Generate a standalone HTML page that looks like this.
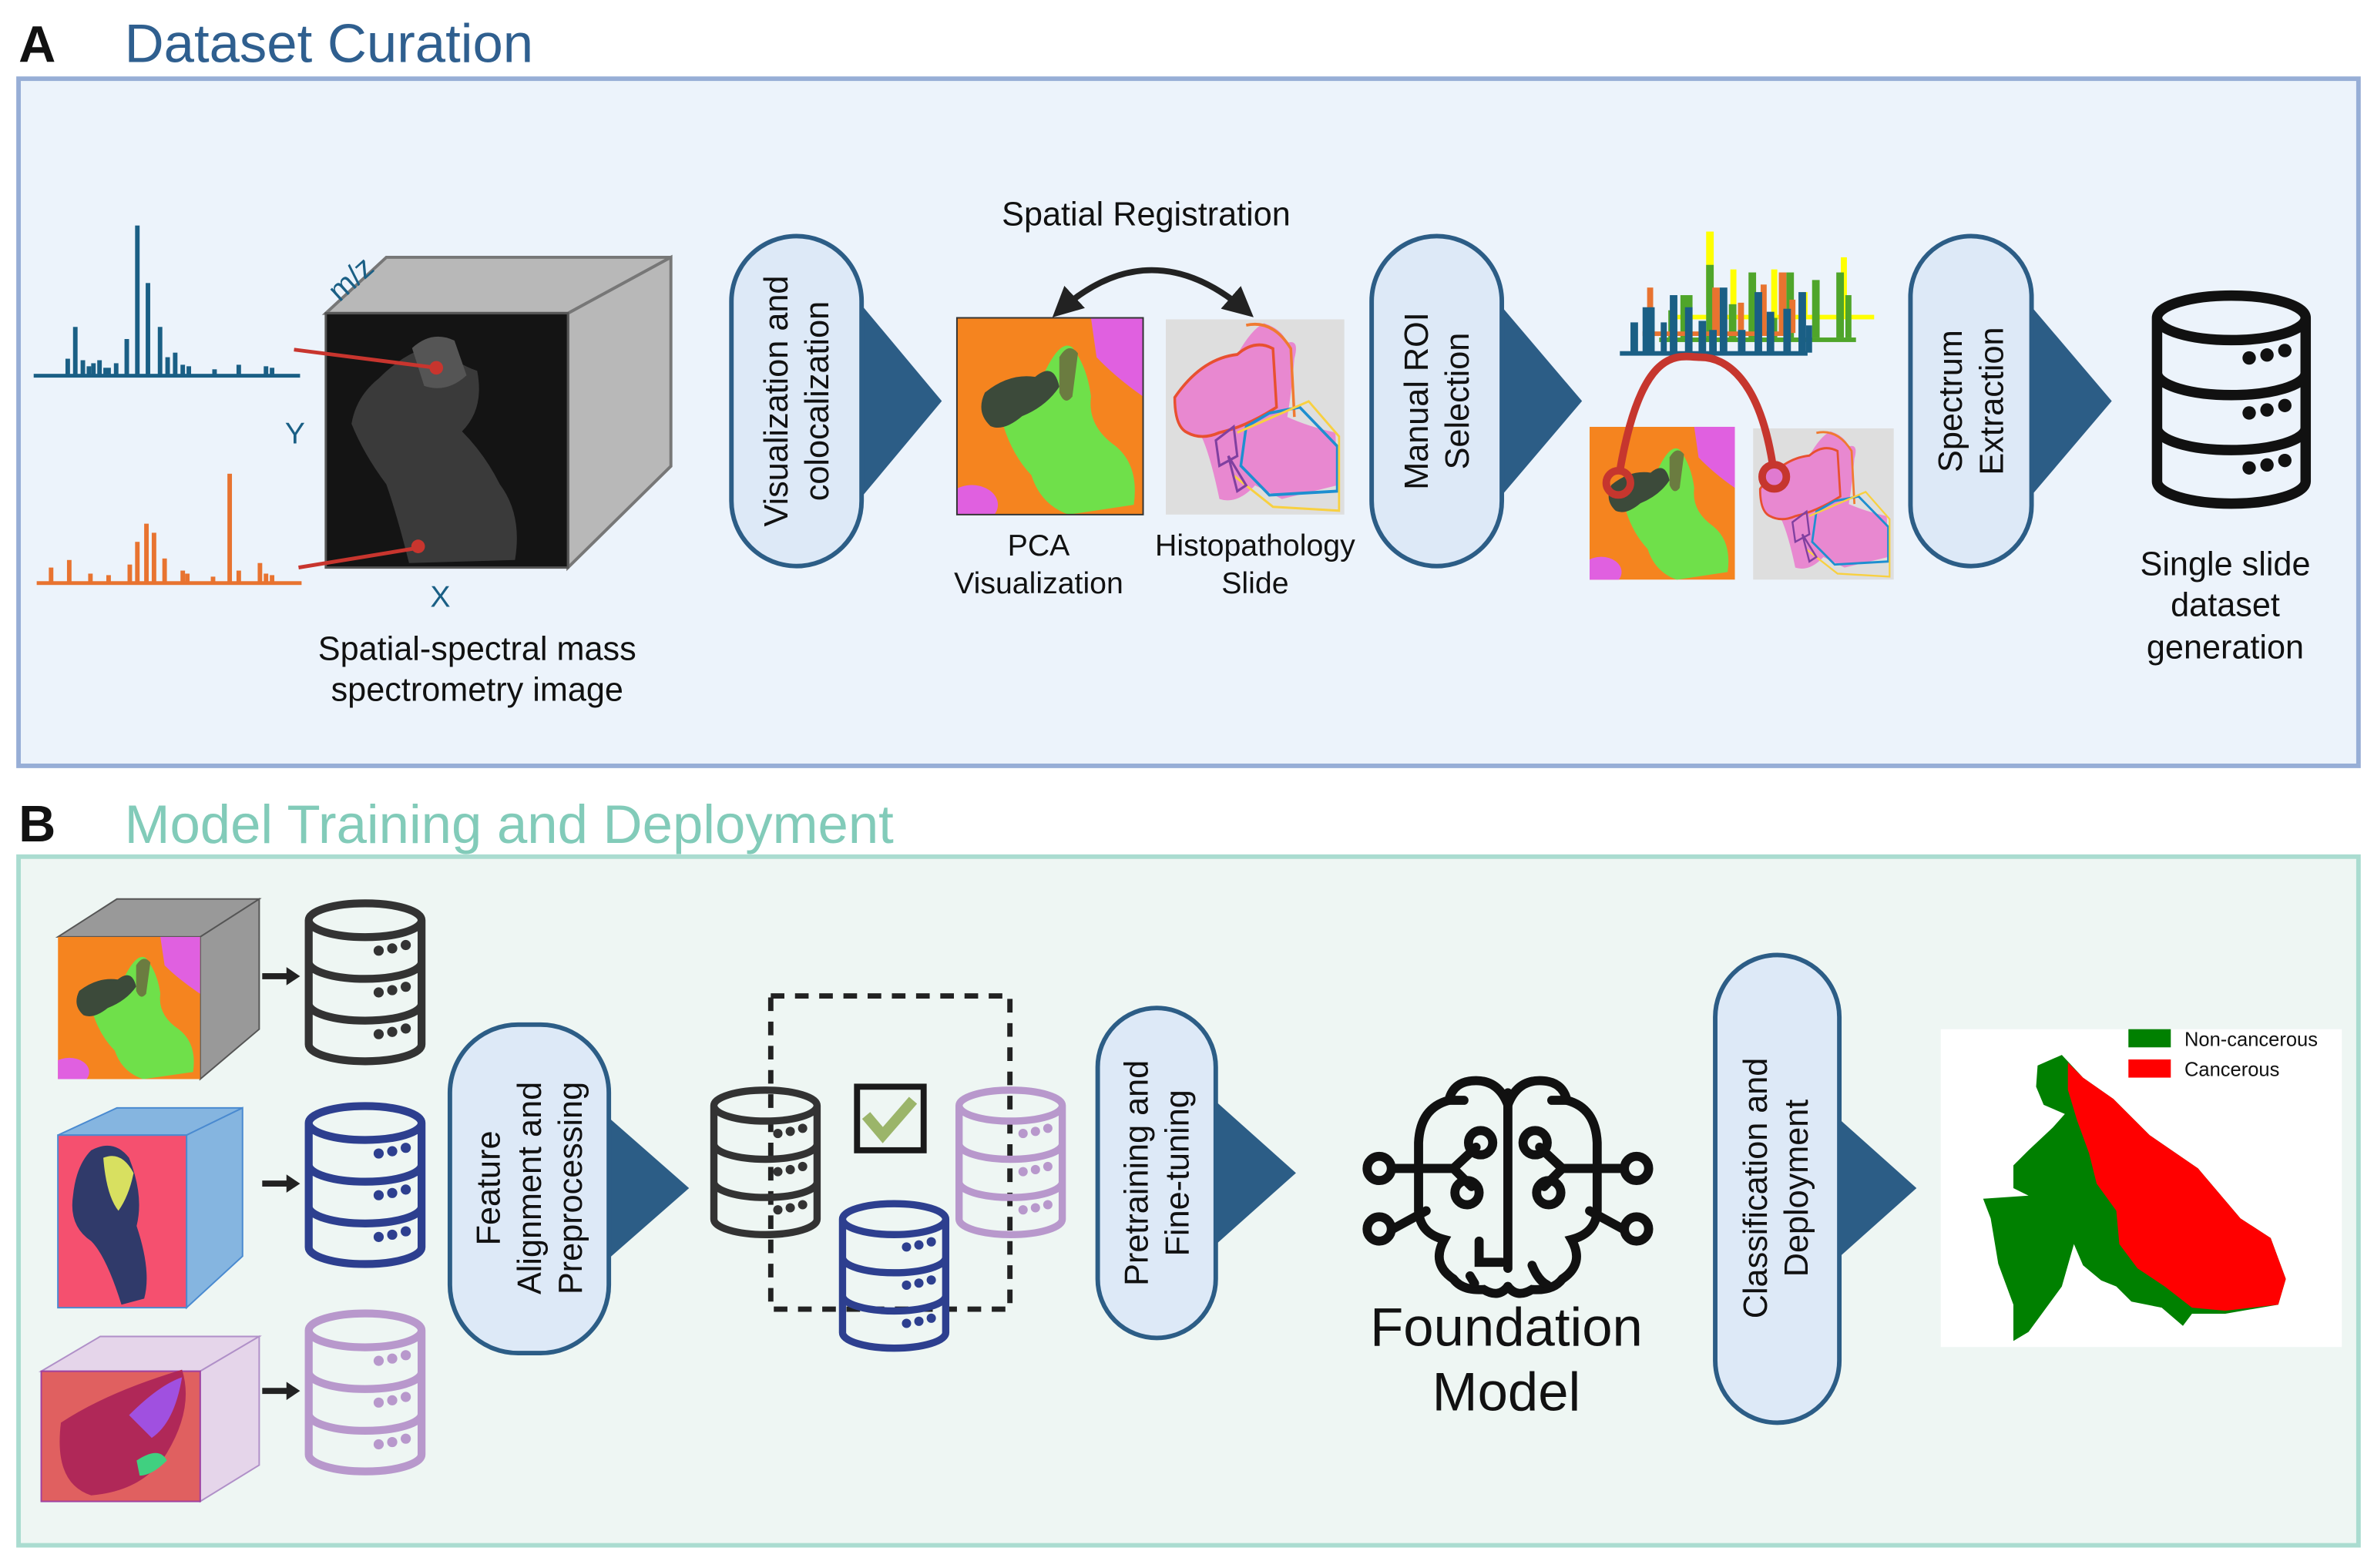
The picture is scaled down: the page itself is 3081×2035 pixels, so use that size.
<!DOCTYPE html>
<html><head><meta charset="utf-8"><style>
html,body{margin:0;padding:0;background:#fff;}
svg{display:block;}
text{font-family:"Liberation Sans",sans-serif;}
</style></head><body>
<svg width="3081" height="2035" viewBox="0 0 1568 1036" xmlns="http://www.w3.org/2000/svg">
<defs>
<symbol id="pca" viewBox="0 0 100 100" preserveAspectRatio="none">
<rect width="100" height="100" fill="#f5841f"/>
<path d="M72,0 H100 V40 Q85,30 75,20 Z" fill="#e060e0"/>
<ellipse cx="8" cy="95" rx="14" ry="10" fill="#e060e0"/>
<path d="M20,40 Q30,30 45,32 Q55,10 62,15 Q70,25 72,40 Q70,55 85,65 Q98,75 95,95 L60,100 Q45,95 40,80 Q30,70 25,55 Q12,50 20,40 Z" fill="#6fe04a"/>
<path d="M15,38 Q28,28 42,30 Q52,22 55,35 Q48,45 35,50 Q25,58 18,55 Q10,48 15,38 Z" fill="#3c4a3a"/>
<path d="M55,20 Q60,12 65,18 L62,40 Q58,45 55,38Z" fill="#6b7c40"/>
</symbol>
<symbol id="histo" viewBox="0 0 100 100" preserveAspectRatio="none">
<rect width="100" height="100" fill="#dedede"/>
<path d="M5,40 Q20,20 40,18 Q48,5 55,2 Q65,5 68,12 Q75,10 72,20 Q70,40 68,50 Q80,55 95,58 L96,85 L65,92 L50,85 Q40,95 30,92 Q25,70 20,60 Q5,60 5,40 Z" fill="#e888d0"/>
<path d="M5,40 Q20,20 40,18 Q50,10 60,15 L62,45 Q45,55 30,58 Q20,62 12,58 Q5,55 5,40Z" fill="none" stroke="#e85030" stroke-width="1.5"/>
<path d="M45,3 Q60,0 70,15 L72,50" fill="none" stroke="#f07a30" stroke-width="1.5"/>
<path d="M45,55 L58,48 L75,45 L96,65 L96,88 L58,90 L42,75 Z" fill="none" stroke="#1e8fd0" stroke-width="1.5"/>
<path d="M40,58 L80,42 L97,60 L97,98 L60,96 L38,80" fill="none" stroke="#f8d040" stroke-width="1.2"/>
<path d="M28,62 L38,55 L40,70 L30,75 Z" fill="none" stroke="#8040a0" stroke-width="1.3"/>
<path d="M35,70 L40,88 L45,85 Z" fill="none" stroke="#8040a0" stroke-width="1.3"/>
</symbol>
<symbol id="db" viewBox="-5 -5 110 150">
<path d="M0,15 A50,15 0 0 1 100,15 V125 A50,15 0 0 1 0,125 Z M0,15 A50,15 0 0 0 100,15 M0,52 A50,15 0 0 0 100,52 M0,89 A50,15 0 0 0 100,89" fill="none" stroke="currentColor" stroke-width="7"/>
<g fill="currentColor"><circle cx="62" cy="42" r="4.5"/><circle cx="74" cy="40" r="4.5"/><circle cx="86" cy="37" r="4.5"/>
<circle cx="62" cy="79" r="4.5"/><circle cx="74" cy="77" r="4.5"/><circle cx="86" cy="74" r="4.5"/>
<circle cx="62" cy="116" r="4.5"/><circle cx="74" cy="114" r="4.5"/><circle cx="86" cy="111" r="4.5"/></g>
</symbol>
<marker id="ah" viewBox="0 0 10 10" refX="8" refY="5" markerWidth="5" markerHeight="5" orient="auto-start-reverse"><path d="M0,0 L10,5 L0,10 Z" fill="#222"/></marker>
</defs>

<!-- Panel A -->
<text x="12" y="41" font-size="34" font-weight="bold" fill="#111">A</text>
<text x="82" y="41" font-size="36" fill="#2f5f8f">Dataset Curation</text>
<rect x="12" y="52" width="1546" height="454" fill="#ecf3fb" stroke="#97aed6" stroke-width="3"/>

<!-- spectra -->
<g fill="#1a5f85">
<rect x="22" y="247" width="176" height="2.5"/>
<rect x="43" y="237" width="3" height="11"/><rect x="48" y="216" width="3" height="32"/><rect x="53" y="238" width="3" height="10"/><rect x="57" y="242" width="3" height="6"/><rect x="60" y="240" width="3" height="8"/><rect x="64" y="238" width="3" height="10"/><rect x="68" y="243" width="5" height="5"/><rect x="75" y="240" width="3" height="8"/><rect x="82" y="224" width="3" height="24"/><rect x="89" y="149" width="3" height="99"/><rect x="96" y="187" width="3" height="61"/><rect x="104" y="216" width="3" height="32"/><rect x="109" y="236" width="3" height="12"/><rect x="114" y="233" width="3" height="15"/><rect x="119" y="241" width="3" height="7"/><rect x="123" y="242" width="3" height="6"/><rect x="140" y="244" width="3" height="4"/><rect x="156" y="241" width="3" height="7"/><rect x="174" y="242" width="3" height="6"/><rect x="178" y="243" width="3" height="5"/>
</g>
<g fill="#e87330">
<rect x="24" y="384" width="175" height="2.5"/>
<rect x="32" y="375" width="3" height="10"/><rect x="44" y="370" width="3" height="15"/><rect x="58" y="379" width="3" height="6"/><rect x="70" y="380" width="3" height="5"/><rect x="84" y="373" width="3" height="12"/><rect x="89" y="358" width="3" height="27"/><rect x="95" y="346" width="3" height="39"/><rect x="100" y="352" width="3" height="33"/><rect x="107" y="369" width="3" height="16"/><rect x="119" y="377" width="3" height="8"/><rect x="122" y="379" width="3" height="6"/><rect x="139" y="381" width="3" height="4"/><rect x="150" y="313" width="3" height="72"/><rect x="156" y="377" width="3" height="8"/><rect x="170" y="372" width="3" height="13"/><rect x="174" y="379" width="3" height="6"/><rect x="178" y="380" width="3" height="5"/>
</g>
<!-- cube -->
<polygon points="215,207 255,170 443,170 375,207" fill="#b8b8b8" stroke="#777" stroke-width="2"/>
<polygon points="375,207 443,170 443,308 375,375" fill="#b8b8b8" stroke="#777" stroke-width="2"/>
<rect x="215" y="207" width="160" height="168" fill="#141414" stroke="#555" stroke-width="1.5"/>
<path d="M250,250 Q270,230 290,228 Q300,240 315,245 Q320,270 305,285 Q320,300 330,320 Q345,340 340,370 L270,372 Q262,340 255,320 Q240,300 232,280 Q235,262 250,250 Z" fill="#3a3a3a"/>
<path d="M272,230 Q285,218 300,225 L308,248 Q295,260 280,255 Z" fill="#555"/>
<line x1="194" y1="231" x2="288" y2="243" stroke="#c8352e" stroke-width="2.5"/><circle cx="288" cy="243" r="4.5" fill="#c8352e"/>
<line x1="197" y1="375" x2="276" y2="362" stroke="#c8352e" stroke-width="2.5"/><circle cx="276" cy="361" r="4.5" fill="#c8352e"/>
<text x="224" y="200" font-size="20" fill="#1a5f85" transform="rotate(-42 224 200)">m/z</text>
<text x="188" y="293" font-size="20" fill="#1a5f85">Y</text>
<text x="284" y="401" font-size="20" fill="#1a5f85">X</text>
<text x="315" y="436" font-size="22" fill="#111" text-anchor="middle">Spatial-spectral mass</text>
<text x="315" y="463" font-size="22" fill="#111" text-anchor="middle">spectrometry image</text>

<!-- pill 1 -->
<polygon points="566,198 622,265 566,332" fill="#2c5d86"/>
<rect x="483" y="156" width="86" height="218" rx="43" fill="#dde9f7" stroke="#2c5d86" stroke-width="3"/>
<text transform="translate(520,265) rotate(-90)" font-size="22" fill="#111" text-anchor="middle">Visualization and</text>
<text transform="translate(547,265) rotate(-90)" font-size="22" fill="#111" text-anchor="middle">colocalization</text>

<text x="757" y="149" font-size="22" fill="#111" text-anchor="middle">Spatial Registration</text>
<path d="M698,207 Q760,150 825,207" fill="none" stroke="#222" stroke-width="4" marker-start="url(#ah)" marker-end="url(#ah)"/>
<use href="#pca" x="632" y="210" width="123" height="130"/>
<rect x="632" y="210" width="123" height="130" fill="none" stroke="#333" stroke-width="1"/>
<use href="#histo" x="770" y="211" width="118" height="129"/>
<text x="686" y="367" font-size="20" fill="#111" text-anchor="middle">PCA</text>
<text x="686" y="392" font-size="20" fill="#111" text-anchor="middle">Visualization</text>
<text x="829" y="367" font-size="20" fill="#111" text-anchor="middle">Histopathology</text>
<text x="829" y="392" font-size="20" fill="#111" text-anchor="middle">Slide</text>

<!-- pill 2 -->
<polygon points="988,198 1045,265 988,332" fill="#2c5d86"/>
<rect x="906" y="156" width="86" height="218" rx="43" fill="#dde9f7" stroke="#2c5d86" stroke-width="3"/>
<text transform="translate(943,265) rotate(-90)" font-size="22" fill="#111" text-anchor="middle">Manual ROI</text>
<text transform="translate(970,265) rotate(-90)" font-size="22" fill="#111" text-anchor="middle">Selection</text>

<!-- stacked spectra -->
<g>
<rect x="1127" y="153" width="5" height="50" fill="#ffff00"/><rect x="1135" y="195" width="4" height="8" fill="#ffff00"/>
<rect x="1103" y="208" width="135" height="3" fill="#ffff00"/>
<rect x="1143" y="178" width="4" height="30" fill="#ffff00"/><rect x="1170" y="178" width="4" height="30" fill="#ffff00"/><rect x="1216" y="170" width="4" height="38" fill="#ffff00"/><rect x="1190" y="193" width="4" height="15" fill="#ffff00"/>
<rect x="1096" y="223" width="130" height="3" fill="#4fa52a"/>
<g fill="#4fa52a"><rect x="1102" y="205" width="4" height="18"/><rect x="1110" y="195" width="8" height="28"/><rect x="1127" y="175" width="5" height="48"/><rect x="1142" y="201" width="5" height="22"/><rect x="1155" y="180" width="5" height="43"/><rect x="1180" y="180" width="5" height="43"/><rect x="1197" y="185" width="5" height="38"/><rect x="1213" y="180" width="5" height="43"/><rect x="1170" y="210" width="4" height="13"/><rect x="1219" y="195" width="4" height="28"/></g>
<rect x="1085" y="219" width="98" height="3" fill="#e87330"/>
<g fill="#e87330"><rect x="1088" y="190" width="4" height="30"/><rect x="1131" y="190" width="5" height="30"/><rect x="1148" y="200" width="4" height="20"/><rect x="1163" y="188" width="4" height="32"/><rect x="1175" y="180" width="5" height="40"/><rect x="1182" y="198" width="4" height="22"/></g>
<rect x="1070" y="232" width="124" height="3" fill="#1a5f85"/>
<g fill="#1a5f85"><rect x="1077" y="213" width="5" height="20"/><rect x="1085" y="203" width="8" height="30"/><rect x="1097" y="213" width="4" height="20"/><rect x="1103" y="195" width="5" height="38"/><rect x="1113" y="203" width="5" height="30"/><rect x="1122" y="212" width="5" height="21"/><rect x="1129" y="218" width="5" height="15"/><rect x="1136" y="190" width="5" height="43"/><rect x="1148" y="218" width="5" height="15"/><rect x="1159" y="193" width="5" height="40"/><rect x="1167" y="206" width="5" height="27"/><rect x="1178" y="204" width="5" height="29"/><rect x="1188" y="193" width="5" height="40"/><rect x="1193" y="215" width="4" height="18"/></g>
</g>
<use href="#pca" x="1050" y="282" width="96" height="101"/>
<use href="#histo" x="1158" y="283" width="93" height="100"/>
<path d="M1070,311 C1085,225 1110,236 1123,236 C1140,236 1162,250 1171,307" fill="none" stroke="#c6362e" stroke-width="5"/>
<circle cx="1069" cy="319" r="8" fill="none" stroke="#c6362e" stroke-width="5"/>
<circle cx="1172" cy="315" r="8" fill="#e07ad0" stroke="#c6362e" stroke-width="5"/>

<!-- pill 3 -->
<polygon points="1338,198 1395,265 1338,332" fill="#2c5d86"/>
<rect x="1262" y="156" width="80" height="218" rx="40" fill="#dde9f7" stroke="#2c5d86" stroke-width="3"/>
<text transform="translate(1296,265) rotate(-90)" font-size="22" fill="#111" text-anchor="middle">Spectrum</text>
<text transform="translate(1323,265) rotate(-90)" font-size="22" fill="#111" text-anchor="middle">Extraction</text>

<use href="#db" x="1420" y="190" width="108" height="148" color="#111"/>
<text x="1470" y="380" font-size="22" fill="#111" text-anchor="middle">Single slide</text>
<text x="1470" y="407" font-size="22" fill="#111" text-anchor="middle">dataset</text>
<text x="1470" y="435" font-size="22" fill="#111" text-anchor="middle">generation</text>

<!-- Panel B -->
<text x="12" y="556" font-size="34" font-weight="bold" fill="#111">B</text>
<text x="82" y="557" font-size="36" fill="#82cbb9">Model Training and Deployment</text>
<rect x="12" y="566" width="1546" height="455" fill="#eef6f3" stroke="#aadcd0" stroke-width="3"/>

<!-- cubes -->
<polygon points="38,619 77,594 171,594 132,619" fill="#999" stroke="#555"/>
<polygon points="132,619 171,594 171,680 132,713" fill="#999" stroke="#555"/>
<use href="#pca" x="38" y="619" width="94" height="94"/>
<polygon points="38,750 77,732 160,732 123,750" fill="#85b5e0" stroke="#4a8ad0"/>
<polygon points="123,750 160,732 160,830 123,864" fill="#85b5e0" stroke="#4a8ad0"/>
<rect x="38" y="750" width="85" height="114" fill="#f5506f" stroke="#4a8ad0"/>
<path d="M60,760 Q75,752 85,765 Q95,790 90,810 Q100,840 95,858 L80,862 Q70,830 60,820 Q45,810 48,790 Q50,770 60,760Z" fill="#303a6a"/>
<path d="M68,765 Q80,760 88,775 Q85,790 78,800 Q70,790 68,765Z" fill="#d8e060"/>
<polygon points="27,906 66,883 171,883 132,906" fill="#e5d5ea" stroke="#b090c8"/>
<polygon points="132,906 171,883 171,968 132,992" fill="#e5d5ea" stroke="#b090c8"/>
<rect x="27" y="906" width="105" height="86" fill="#e06060" stroke="#a040a0"/>
<path d="M40,940 Q70,920 120,905 Q128,930 110,960 Q95,985 60,988 Q35,980 40,940Z" fill="#b02858"/>
<path d="M85,935 Q105,915 120,910 Q115,940 100,950Z" fill="#a050e0"/>
<path d="M90,965 Q105,955 110,965 Q100,975 92,975Z" fill="#40d080"/>
<g fill="#222"><rect x="173" y="643" width="18" height="4"/><polygon points="189,639 198,645 189,651"/>
<rect x="173" y="780" width="18" height="4"/><polygon points="189,776 198,782 189,788"/>
<rect x="173" y="917" width="18" height="4"/><polygon points="189,913 198,919 189,925"/></g>
<use href="#db" x="200" y="593" width="82" height="112" color="#333"/>
<use href="#db" x="200" y="727" width="82" height="112" color="#2d3f8f"/>
<use href="#db" x="200" y="864" width="82" height="112" color="#b898cc"/>

<!-- pill 4 -->
<polygon points="398,735 455,785 398,835" fill="#2c5d86"/>
<rect x="297" y="677" width="105" height="217" rx="45" fill="#dde9f7" stroke="#2c5d86" stroke-width="3"/>
<text transform="translate(330,785) rotate(-90)" font-size="22" fill="#111" text-anchor="middle">Feature</text>
<text transform="translate(357,785) rotate(-90)" font-size="22" fill="#111" text-anchor="middle">Alignment and</text>
<text transform="translate(384,785) rotate(-90)" font-size="22" fill="#111" text-anchor="middle">Preprocessing</text>

<rect x="509" y="658" width="158" height="207" fill="none" stroke="#222" stroke-width="3.5" stroke-dasharray="9,7"/>
<use href="#db" x="468" y="716" width="75" height="104" color="#333"/>
<use href="#db" x="630" y="716" width="75" height="104" color="#b898cc"/>
<use href="#db" x="553" y="791" width="75" height="104" color="#2d3f8f"/>
<rect x="566" y="718" width="44" height="42" fill="none" stroke="#1a1a1a" stroke-width="4"/>
<path d="M572,737 L583,750 L603,727" fill="none" stroke="#9bb56a" stroke-width="7"/>

<!-- pill 5 -->
<polygon points="800,725 856,775 800,825" fill="#2c5d86"/>
<rect x="725" y="666" width="78" height="218" rx="39" fill="#dde9f7" stroke="#2c5d86" stroke-width="3"/>
<text transform="translate(758,775) rotate(-90)" font-size="22" fill="#111" text-anchor="middle">Pretraining and</text>
<text transform="translate(785,775) rotate(-90)" font-size="22" fill="#111" text-anchor="middle">Fine-tuning</text>

<!-- brain -->
<g fill="none" stroke="#111" stroke-width="6" stroke-linecap="round">
<path d="M996,722 V838"/>
<path d="M996,730 Q990,714 975,714 Q960,714 957,727 Q938,732 937,755 V800 Q938,815 954,819 Q945,835 960,845 Q966,853 980,852 Q990,858 996,850"/>
<path d="M957,727 H967"/>
<path d="M996,730 Q1002,714 1017,714 Q1032,714 1035,727 Q1054,732 1055,755 V800 Q1054,815 1038,819 Q1047,835 1032,845 Q1026,853 1012,852 Q1002,858 996,850"/>
<path d="M1035,727 H1025"/>
<path d="M974,848 L971,843"/>
<path d="M977,820 V834 H992"/>
<path d="M1012,836 Q1016,846 1022,849"/>
<path d="M920,772 H960 L975,758 M960,772 L972,784"/>
<path d="M920,812 L942,800"/>
<path d="M1072,772 H1032 L1017,758 M1032,772 L1020,784"/>
<path d="M1072,812 L1050,800"/>
<circle cx="911" cy="772" r="8"/><circle cx="911" cy="812" r="8"/>
<circle cx="1081" cy="772" r="8"/><circle cx="1081" cy="812" r="8"/>
<circle cx="978" cy="755" r="8"/><circle cx="969" cy="788" r="8"/>
<circle cx="1014" cy="755" r="8"/><circle cx="1023" cy="788" r="8"/>
</g>
<text x="995" y="889" font-size="36" fill="#111" text-anchor="middle">Foundation</text>
<text x="995" y="932" font-size="36" fill="#111" text-anchor="middle">Model</text>

<!-- pill 6 -->
<polygon points="1210,735 1266,785 1210,835" fill="#2c5d86"/>
<rect x="1133" y="631" width="82" height="309" rx="41" fill="#dde9f7" stroke="#2c5d86" stroke-width="3"/>
<text transform="translate(1167,785) rotate(-90)" font-size="22" fill="#111" text-anchor="middle">Classification and</text>
<text transform="translate(1194,785) rotate(-90)" font-size="22" fill="#111" text-anchor="middle">Deployment</text>

<!-- map -->
<rect x="1282" y="680" width="265" height="210" fill="#fff"/>
<polygon points="1346,704 1362,697 1376,712 1396,726 1420,750 1452,772 1480,805 1500,818 1510,845 1505,862 1470,868 1448,868 1442,876 1428,864 1408,860 1398,850 1388,846 1376,836 1370,822 1362,850 1340,880 1330,886 1330,862 1320,835 1315,805 1310,792 1340,790 1330,785 1330,770 1340,760 1356,745 1364,736 1350,730 1345,718" fill="#008000"/>
<polygon points="1366,702 1376,712 1396,726 1420,750 1452,772 1480,805 1500,818 1510,845 1505,862 1470,866 1448,864 1430,850 1412,838 1400,822 1398,800 1385,782 1380,762 1372,740 1366,720" fill="#ff0000"/>
<rect x="1406" y="680" width="28" height="12" fill="#008000"/>
<rect x="1406" y="700" width="28" height="12" fill="#ff0000"/>
<text x="1443" y="691" font-size="13" fill="#111" font-family="DejaVu Sans">Non-cancerous</text>
<text x="1443" y="711" font-size="13" fill="#111" font-family="DejaVu Sans">Cancerous</text>
</svg>
</body></html>
